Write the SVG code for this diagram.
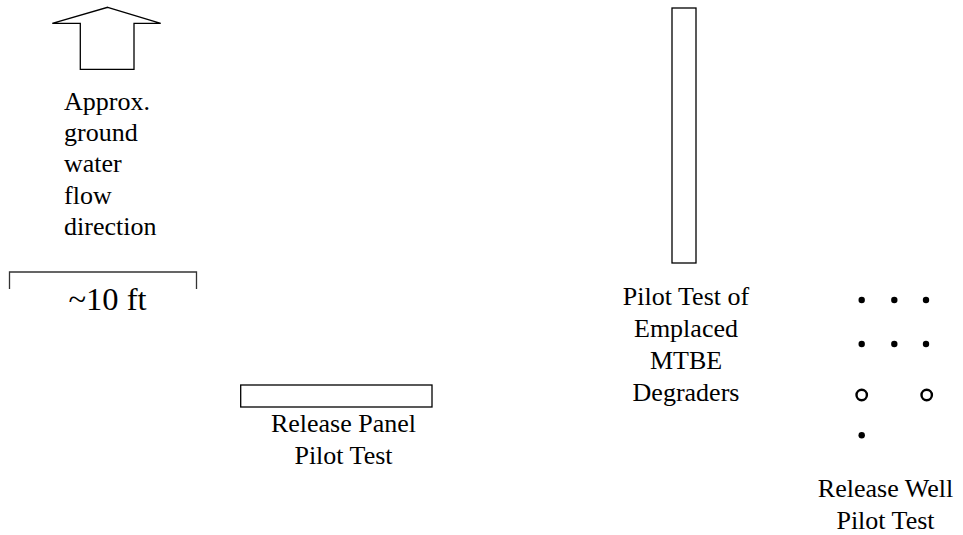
<svg xmlns="http://www.w3.org/2000/svg" width="963" height="535" viewBox="0 0 963 535">
<style>
.m{text-anchor:middle}
.s{fill:#fff;stroke:#000;stroke-width:1.3}
.d{fill:#000}
.c{fill:none;stroke:#000;stroke-width:2.4}
</style>
<rect width="963" height="535" fill="#fff"/>
<g id="flow-arrow">
<polygon class="s" points="107.7,7.3 160.7,23.3 134,23.3 134,69.3 80.3,69.3 80.3,23.3 52.3,23.3"/>
<text font-family="Liberation Serif" font-size="26" x="64" y="110">Approx.</text>
<text font-family="Liberation Serif" font-size="26" x="64" y="141">ground</text>
<text font-family="Liberation Serif" font-size="26" x="64" y="172">water</text>
<text font-family="Liberation Serif" font-size="26" x="64" y="204">flow</text>
<text font-family="Liberation Serif" font-size="26" x="64" y="235">direction</text>
</g>
<g id="scale">
<path d="M9.5,289 V272 H196.5 V289" fill="none" stroke="#333" stroke-width="1.3"/>
<text class="m" font-family="Liberation Serif" font-size="32.5" x="107.5" y="310">~10 ft</text>
</g>
<g id="release-panel">
<rect class="s" x="240.7" y="385" width="191.3" height="22"/>
<text class="m" font-family="Liberation Serif" font-size="26" x="343.5" y="432">Release Panel</text>
<text class="m" font-family="Liberation Serif" font-size="26" x="343.5" y="464">Pilot Test</text>
</g>
<g id="emplaced-degraders">
<rect class="s" x="672" y="8" width="24" height="255"/>
<text class="m" font-family="Liberation Serif" font-size="26" x="686" y="305">Pilot Test of</text>
<text class="m" font-family="Liberation Serif" font-size="26" x="686" y="337">Emplaced</text>
<text class="m" font-family="Liberation Serif" font-size="26" x="686" y="369">MTBE</text>
<text class="m" font-family="Liberation Serif" font-size="26" x="686" y="401">Degraders</text>
</g>
<g id="release-well">
<circle class="d" cx="861.7" cy="300" r="3.2"/>
<circle class="d" cx="894.3" cy="300" r="3.2"/>
<circle class="d" cx="926" cy="300" r="3.2"/>
<circle class="d" cx="861.7" cy="344" r="3.2"/>
<circle class="d" cx="894.3" cy="344" r="3.2"/>
<circle class="d" cx="926" cy="344" r="3.2"/>
<circle class="c" cx="861.7" cy="395" r="5.2"/>
<circle class="c" cx="926.7" cy="395" r="5.2"/>
<circle class="d" cx="861.7" cy="435.3" r="3.2"/>
<text class="m" font-family="Liberation Serif" font-size="26" x="885.5" y="497">Release Well</text>
<text class="m" font-family="Liberation Serif" font-size="26" x="885.5" y="529">Pilot Test</text>
</g>
<g id="connectors"></g>
</svg>
